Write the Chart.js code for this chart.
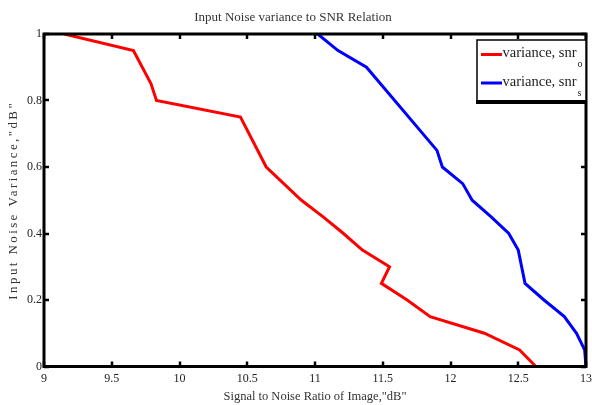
<!DOCTYPE html>
<html>
<head>
<meta charset="utf-8">
<script src="https://cdn.jsdelivr.net/npm/chart.js@4"></script>
<style>
  html, body { margin: 0; padding: 0; background: #fff; }
  #wrap { width: 592px; height: 405px; position: relative; }
</style>
</head>
<body>
<div id="wrap"><canvas id="c"></canvas></div>
<script>
// SNR of the output image (dB) against input noise variance
const snrO = [9.15, 9.66, 9.79, 9.83, 10.45, 10.64, 10.9, 11.06, 11.21, 11.35, 11.55, 11.49, 11.68, 11.85, 12.25, 12.51, 12.63];
const varO = [1, 0.95, 0.85, 0.8, 0.75, 0.6, 0.5, 0.45, 0.4, 0.35, 0.3, 0.25, 0.2, 0.15, 0.1, 0.05, 0];
const snrS = [11.02, 11.17, 11.38, 11.9, 11.94, 12.09, 12.16, 12.3, 12.43, 12.5, 12.55, 12.69, 12.84, 12.93, 12.99, 13];
const varS = [1, 0.95, 0.9, 0.65, 0.6, 0.55, 0.5, 0.45, 0.4, 0.35, 0.25, 0.2, 0.15, 0.1, 0.05, 0];

const seriesNames = ['variance, snr', 'variance, snr'];
const seriesSubs = ['o', 's'];
const seriesColors = ['#ff0000', '#0000ff'];

const xTickLabels = ['9', '9.5', '10', '10.5', '11', '11.5', '12', '12.5', '13'];
const yTickLabels = ['0', '0.2', '0.4', '0.6', '0.8', '1'];

const FONT = '"Liberation Serif", "DejaVu Serif", serif';

const toPoints = (xs, ys) => xs.map((v, i) => ({ x: v, y: ys[i] }));

// Boxed frame with inward ticks on all four sides, plus a boxed legend
const framePlugin = {
  id: 'frame',
  afterDatasetsDraw(chart) {
    const { ctx, chartArea: a, scales: { x, y } } = chart;
    ctx.save();
    ctx.strokeStyle = '#000';
    ctx.lineWidth = 2.5;
    const seg = (x1, y1, x2, y2) => { ctx.beginPath(); ctx.moveTo(x1, y1); ctx.lineTo(x2, y2); ctx.stroke(); };
    x.ticks.forEach(t => {
      const px = Math.round(x.getPixelForValue(t.value));
      seg(px, a.bottom, px, a.bottom - 5);
      seg(px, a.top, px, a.top + 5);
    });
    y.ticks.forEach(t => {
      const py = Math.round(y.getPixelForValue(t.value));
      seg(a.left, py, a.left + 5, py);
      seg(a.right, py, a.right - 5, py);
    });
    ctx.lineWidth = 3;
    ctx.strokeRect(a.left, a.top, a.right - a.left, a.bottom - a.top);

    // legend box, flush with the right edge of the frame
    const bx = 477, by = a.top + 6, bw = a.right - bx, bh = 61;
    ctx.fillStyle = '#fff';
    ctx.fillRect(bx, by, bw, bh);
    ctx.strokeStyle = '#000';
    ctx.lineWidth = 1.5;
    ctx.strokeRect(bx, by, bw, bh);
    ctx.fillStyle = '#000';
    ctx.fillRect(bx - 1, by + bh - 1, bw + 2, 4);

    chart.data.datasets.forEach((ds, i) => {
      const ly = by + 14.5 + i * 28.5;
      ctx.strokeStyle = seriesColors[i];
      ctx.lineWidth = 3;
      seg(bx + 4, ly, bx + 25, ly);
      ctx.fillStyle = '#222';
      ctx.font = '14.5px ' + FONT;
      ctx.textBaseline = 'middle';
      ctx.textAlign = 'left';
      ctx.fillText(seriesNames[i], bx + 25.5, ly - 1);
      const w = ctx.measureText(seriesNames[i]).width;
      ctx.font = '10px ' + FONT;
      ctx.fillText(seriesSubs[i], bx + 26.5 + w, ly + 10);
    });
    ctx.restore();
  }
};

new Chart(document.getElementById('c'), {
  type: 'scatter',
  data: {
    datasets: [
      { label: seriesNames[0] + seriesSubs[0], data: toPoints(snrO, varO), borderColor: seriesColors[0], backgroundColor: seriesColors[0] },
      { label: seriesNames[1] + seriesSubs[1], data: toPoints(snrS, varS), borderColor: seriesColors[1], backgroundColor: seriesColors[1] }
    ]
  },
  options: {
    responsive: true,
    maintainAspectRatio: false,
    animation: false,
    showLine: true,
    elements: {
      line: { borderWidth: 3, tension: 0 },
      point: { radius: 0, hoverRadius: 0 }
    },
    layout: { padding: { top: 0, right: 6, bottom: 0, left: 0 } },
    plugins: {
      legend: { display: false },
      tooltip: { enabled: false },
      title: {
        display: true,
        text: 'Input Noise variance to SNR Relation',
        color: '#333',
        font: { family: FONT, size: 13, weight: 'normal' },
        padding: { top: 10, bottom: 8.4 }
      }
    },
    scales: {
      x: {
        type: 'linear',
        min: 9, max: 13,
        afterFit(s) {
          s.height = 38.5;
          s.paddingLeft = 0;
          s.paddingRight = 0;
        },
        grid: { display: false, drawTicks: false },
        border: { display: false },
        ticks: {
          stepSize: 0.5,
          padding: 5,
          color: '#222',
          font: { family: FONT, size: 12 },
          maxRotation: 0,
          callback: (v) => xTickLabels[Math.round((v - 9) / 0.5)]
        },
        title: {
          display: true,
          text: 'Signal to Noise Ratio of Image,"dB"',
          color: '#333',
          font: { family: FONT, size: 12.5 },
          padding: { top: 0, bottom: 1.2 }
        }
      },
      y: {
        type: 'linear',
        min: 0, max: 1,
        afterFit(s) {
          s.width = 44;
          s.paddingTop = 0;
          s.paddingBottom = 0;
          // the vertical axis title is set with wide letter spacing
          if (!s._spacedTitle) {
            const draw = s.drawTitle.bind(s);
            s.drawTitle = function () {
              this.ctx.save();
              this.ctx.letterSpacing = '2.4px';
              draw();
              this.ctx.restore();
            };
            s._spacedTitle = true;
          }
        },
        grid: { display: false, drawTicks: false },
        border: { display: false },
        ticks: {
          stepSize: 0.2,
          padding: 2,
          color: '#222',
          font: { family: FONT, size: 12 },
          callback: (v) => yTickLabels[Math.round(v / 0.2)]
        },
        title: {
          display: true,
          text: 'Input Noise Variance,"dB"',
          color: '#333',
          font: { family: FONT, size: 13 },
          padding: { top: 6, bottom: 0 }
        }
      }
    }
  },
  plugins: [framePlugin]
});
</script>
</body>
</html>
